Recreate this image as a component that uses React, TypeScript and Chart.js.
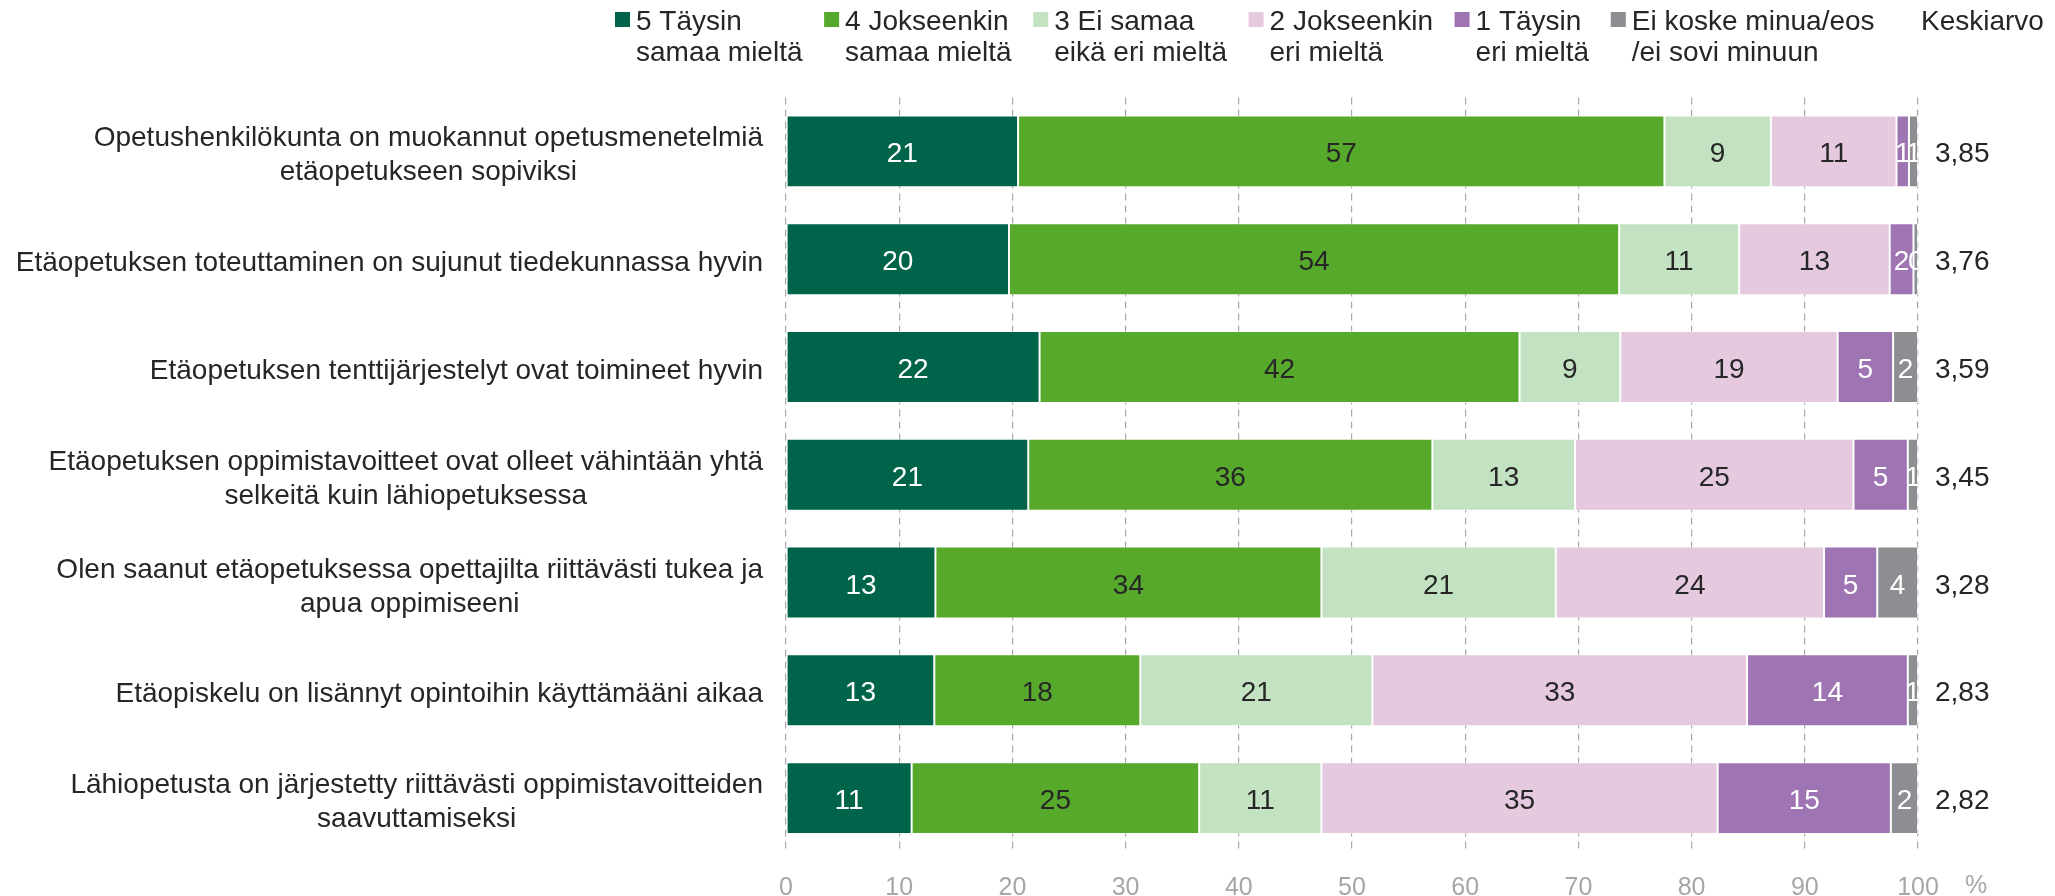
import React, { useEffect, useRef } from "react";
import { Chart, registerables } from "chart.js";

Chart.register(...registerables);

const categories: string[][] = [
  ["Opetushenkilökunta on muokannut opetusmenetelmiä", "etäopetukseen sopiviksi"],
  ["Etäopetuksen toteuttaminen on sujunut tiedekunnassa hyvin"],
  ["Etäopetuksen tenttijärjestelyt ovat toimineet hyvin"],
  ["Etäopetuksen oppimistavoitteet ovat olleet vähintään yhtä", "selkeitä kuin lähiopetuksessa"],
  ["Olen saanut etäopetuksessa opettajilta riittävästi tukea ja", "apua oppimiseeni"],
  ["Etäopiskelu on lisännyt opintoihin käyttämääni aikaa"],
  ["Lähiopetusta on järjestetty riittävästi oppimistavoitteiden", "saavuttamiseksi"],
];

const seriesNames: string[][] = [
  ["5 Täysin", "samaa mieltä"],
  ["4 Jokseenkin", "samaa mieltä"],
  ["3 Ei samaa", "eikä eri mieltä"],
  ["2 Jokseenkin", "eri mieltä"],
  ["1 Täysin", "eri mieltä"],
  ["Ei koske minua/eos", "/ei sovi minuun"],
];

const s5 = [20.5, 19.7, 22.4, 21.4, 13.2, 13.1, 11.1];
const s4 = [57.1, 53.9, 42.4, 35.7, 34.1, 18.2, 25.4];
const s3 = [9.4, 10.6, 8.9, 12.6, 20.7, 20.5, 10.8];
const s2 = [11.1, 13.3, 19.2, 24.6, 23.7, 33.1, 35.0];
const s1 = [1.1, 2.1, 4.9, 4.8, 4.7, 14.2, 15.3];
const sEos = [0.8, 0.4, 2.2, 0.9, 3.6, 0.9, 2.4];

const averages = ["3,85", "3,76", "3,59", "3,45", "3,28", "2,83", "2,82"];
const averageTitle = "Keskiarvo";
const unitLabel = "%";

const colors = ["#00644A", "#57A92B", "#C3E2C2", "#E4C9DF", "#9E74B3", "#8D8E92"];
const labelColors = ["#ffffff", "#262626", "#262626", "#262626", "#ffffff", "#ffffff"];

const FONT = "'Liberation Sans', Arial, sans-serif";
const TEXT = "#262626";
const SIZE = 28;

function drawText(ctx: CanvasRenderingContext2D, text: string, x: number, cy: number) {
  ctx.textBaseline = "alphabetic";
  ctx.fillText(text, x, cy + 0.358 * SIZE);
}

export default function App() {
  const ref = useRef<HTMLCanvasElement | null>(null);

  useEffect(() => {
    if (!ref.current) return;
    const seriesValues = [s5, s4, s3, s2, s1, sEos];

    const overlay = {
      id: "overlay",
      afterDatasetsDraw(chart: any) {
        const ctx = chart.ctx;
        const area = chart.chartArea;
        ctx.save();
        ctx.beginPath();
        ctx.rect(area.left, area.top, area.right - area.left, area.bottom - area.top);
        ctx.clip();
        ctx.font = `${SIZE}px ${FONT}`;
        ctx.textAlign = "center";
        chart.data.datasets.forEach((ds: any, di: number) => {
          const meta = chart.getDatasetMeta(di);
          meta.data.forEach((bar: any, i: number) => {
            const v = ds.data[i];
            const cx = (bar.x + bar.base) / 2;
            ctx.fillStyle = labelColors[di];
            drawText(ctx, String(Math.round(v)), cx, bar.y + 1);
          });
        });
        ctx.restore();
      },
      afterDraw(chart: any) {
        const ctx = chart.ctx;
        const yScale = chart.scales.y;
        const xScale = chart.scales.x;
        const area = chart.chartArea;
        ctx.save();
        ctx.font = `${SIZE}px ${FONT}`;
        ctx.fillStyle = TEXT;
        // category labels: block right-aligned, lines centered
        const lineH = 34;
        categories.forEach((lines, i) => {
          const y = yScale.getPixelForValue(i) + 2;
          const maxW = Math.max(...lines.map((l) => ctx.measureText(l).width));
          const right = area.left - 23;
          const cx = right - maxW / 2;
          ctx.textAlign = "center";
          lines.forEach((l, k) => {
            const ly = y + (k - (lines.length - 1) / 2) * lineH;
            drawText(ctx, l, cx, ly);
          });
        });
        // averages
        ctx.textAlign = "left";
        averages.forEach((a, i) => {
          const y = yScale.getPixelForValue(i);
          drawText(ctx, a, area.right + 17, y + 1);
        });
        // legend
        let x = 615;
        const y1 = 19.5;
        const y2 = 51;
        const box = 15;
        seriesNames.forEach((lines, i) => {
          ctx.fillStyle = colors[i];
          ctx.fillRect(x, y1 - box / 2, box, box);
          ctx.fillStyle = TEXT;
          ctx.textAlign = "left";
          drawText(ctx, lines[0], x + 21, y1);
          drawText(ctx, lines[1], x + 21, y2);
          const w = Math.max(...lines.map((l) => ctx.measureText(l).width));
          x += 21 + w + 21.6;
        });
        drawText(ctx, averageTitle, area.right + 3, y1);
        // unit label
        ctx.font = `25px ${FONT}`;
        ctx.fillStyle = "#A6A6A6";
        ctx.textAlign = "left";
        ctx.textBaseline = "middle";
        ctx.fillText(unitLabel, area.right + 47, xScale.bottom - 10);
        ctx.restore();
      },
    };

    const chart = new Chart(ref.current, {
      type: "bar",
      data: {
        labels: categories.map((c) => c.join(" ")),
        datasets: seriesValues.map((vals, i) => ({
          label: seriesNames[i].join(" "),
          data: vals,
          backgroundColor: colors[i],
          borderColor: "rgba(255,255,255,0.55)",
          borderWidth: 1,
          borderSkipped: false,
          barPercentage: 0.667,
          categoryPercentage: 1,
        })),
      },
      options: {
        indexAxis: "y",
        animation: false,
        responsive: true,
        maintainAspectRatio: false,
        devicePixelRatio: 1,
        layout: { padding: { left: 786, right: 137, top: 97.5, bottom: 0 } },
        plugins: {
          legend: { display: false },
          tooltip: { enabled: false },
        },
        scales: {
          x: {
            type: "linear",
            stacked: true,
            min: 0,
            max: 100,
            ticks: {
              stepSize: 10,
              color: "#A6A6A6",
              font: { size: 25, family: FONT },
              padding: 21,
            },
            grid: {
              color: "#A8A8A8",
              lineWidth: 1.2,
              drawTicks: false,
              borderDash: [7, 5],
            } as any,
            border: { display: false, dash: [7, 5] },
            afterFit: (scale: any) => {
              scale.height = 44;
            },
          },
          y: {
            type: "category",
            stacked: true,
            display: false,
          },
        },
      },
      plugins: [overlay],
    } as any);

    return () => chart.destroy();
  }, []);

  return (
    <div style={{ position: "absolute", left: 0, top: 0, width: 2055, height: 896, background: "#fff" }}>
      <canvas ref={ref} />
    </div>
  );
}
